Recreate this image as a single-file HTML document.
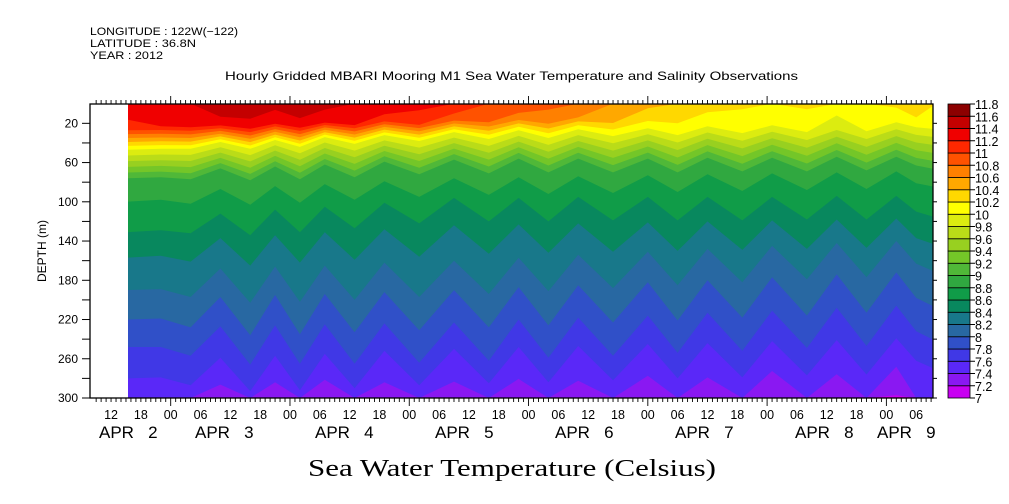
<!DOCTYPE html>
<html><head><meta charset="utf-8"><style>
body{margin:0;background:#fff;}
svg{display:block;font-family:"Liberation Sans",sans-serif;}
</style></head><body>
<svg id="chart" width="1009" height="504" viewBox="0 0 1009 504">
<rect width="1009" height="504" fill="#fff"/>
<g font-size="11" fill="#000">
<text x="90" y="35" textLength="148" lengthAdjust="spacingAndGlyphs">LONGITUDE : 122W(−122)</text>
<text x="90" y="47" textLength="106" lengthAdjust="spacingAndGlyphs">LATITUDE : 36.8N</text>
<text x="90" y="59" textLength="73" lengthAdjust="spacingAndGlyphs">YEAR : 2012</text>
</g>
<text x="225" y="80" textLength="573" lengthAdjust="spacingAndGlyphs" font-size="12">Hourly Gridded MBARI Mooring M1 Sea Water Temperature and Salinity Observations</text>
<defs><clipPath id="dclip"><rect x="128" y="104" width="805" height="294"/></clipPath></defs>
<g id="field" clip-path="url(#dclip)"></g>
<g id="axes"></g>
<g id="cbar"></g>
<text transform="translate(46,251) rotate(-90)" text-anchor="middle" font-size="12">DEPTH (m)</text>
<text x="308" y="476" textLength="408" lengthAdjust="spacingAndGlyphs" font-size="24" font-family="Liberation Serif, serif">Sea Water Temperature (Celsius)</text>
</svg>
<script>
// sample times (hours since 2012-04-02 00:00)
const times=[15,22,28,34,40,45,50,55,61,67,74,81,88,94,100,106,113,120,126,132,139,145,152,158,164,170,174,178];
const surfT=[11.3,11.35,11.4,11.5,11.5,11.45,11.5,11.45,11.4,11.3,11.25,11.1,10.95,10.9,10.85,10.75,10.6,10.45,10.4,10.3,10.25,10.2,10.25,10.15,10.2,10.25,10.35,10.2];
const dMix=[24,23,23,20,23,19,22,18,21,16,20,15,19,14,18,14,18,14,17,13,17,13,17,12,16,12,14,16];
const d10=[47,46,46,39,46,37,44,34,41,32,38,29,36,27,35,26,33,25,32,23,30,22,29,20,28,19,24,26];
const d90=[76,75,77,66,78,64,77,62,75,59,72,57,71,56,70,56,70,56,70,55,69,55,69,54,68,54,63,67];
const d88=[100,98,102,87,103,84,101,82,98,79,95,76,93,75,92,74,91,73,90,72,89,71,88,70,87,69,81,85];
const d86=[131,129,132,112,134,108,131,105,127,101,122,96,120,96,120,95,119,95,119,95,119,95,118,94,118,94,110,116];
const d84=[157,155,161,137,165,134,162,131,159,128,156,124,153,123,152,122,151,121,150,120,149,119,148,118,147,117,137,144];
const d82=[190,189,197,168,203,166,202,165,200,162,197,160,194,157,191,154,188,151,185,148,182,145,179,142,177,140,163,172];
const d80=[220,219,228,197,236,195,235,194,233,192,231,190,228,187,226,185,223,182,221,180,218,177,216,174,213,172,198,208];
const d78=[248,248,257,227,266,226,265,225,265,224,264,223,262,220,259,218,257,216,254,213,252,211,249,208,247,206,232,242];
const d76=[280,279,287,259,293,257,292,255,290,252,287,250,285,248,284,247,282,245,280,244,279,242,277,241,276,239,262,271];
const bottomT=[7.42,7.42,7.44,7.3,7.46,7.28,7.46,7.26,7.46,7.3,7.46,7.3,7.46,7.28,7.46,7.3,7.46,7.26,7.46,7.28,7.46,7.22,7.46,7.26,7.46,7.18,7.4,7.44];
const levels=[7,7.2,7.4,7.6,7.8,8,8.2,8.4,8.6,8.8,9,9.2,9.4,9.6,9.8,10,10.2,10.4,10.6,10.8,11,11.2,11.4,11.6,11.8];
const levelColors=['#c800f2','#8a18f2','#5a28f8','#4038e6','#3050c8','#2868a2','#18788a','#08885e','#109c48','#30a840','#50b838','#74c628','#98d020','#badc18','#dcec10','#ffff00','#ffd800','#ffa800','#ff8000','#ff5200','#ff2800','#f00000','#c40000','#8c0000'];
const depthTicks=[20,40,60,80,100,120,140,160,180,200,220,240,260,280,300];
const depthLabels=['20','60','100','140','180','220','260','300'];
const hourLabels=['00','06','12','18'];
const dayNames=['APR   2','APR   3','APR   4','APR   5','APR   6','APR   7','APR   8','APR   9'];

const NS='http://www.w3.org/2000/svg';
const X0=170.7, PXH=4.97, Y0=103.7, PXM=0.981;
function xOf(h){return X0+(h-24)*PXH;}
function yOf(d){return Y0+d*PXM;}
function mk(tag,attrs,parent){const e=document.createElementNS(NS,tag);for(const k in attrs)e.setAttribute(k,attrs[k]);parent.appendChild(e);return e;}

function knots(i){
  return [[0,surfT[i]],[dMix[i],surfT[i]-0.15],[d10[i],10],[d90[i],9],[d88[i],8.8],[d86[i],8.6],[d84[i],8.4],[d82[i],8.2],[d80[i],8.0],[d78[i],7.8],[d76[i],7.6],[300,bottomT[i]]];
}
function depthOf(i,L){
  const k=knots(i);
  if(L>k[0][1])return 0;
  for(let j=0;j<k.length-1;j++){
    const [da,ta]=k[j],[db,tb]=k[j+1];
    if(L<=ta&&L>=tb){ if(ta===tb)return da; return da+(ta-L)/(ta-tb)*(db-da);}
  }
  return 300;
}
const field=document.getElementById('field');
const base=mk('rect',{x:128,y:104,width:805,height:294,fill:levelColors[0]},field);


for(let b=1;b<levelColors.length;b++){
  const L=levels[b];
  let pts=[];
  for(let i=0;i<times.length;i++)pts.push(xOf(times[i]).toFixed(1)+','+yOf(depthOf(i,L)).toFixed(1));
  pts.push(xOf(times[times.length-1]).toFixed(1)+',100');
  pts.push(xOf(times[0]).toFixed(1)+',100');
  const p=mk('polygon',{points:pts.join(' '),fill:levelColors[b]},field);
  
  
}

const ax=document.getElementById('axes');
const frame=mk('rect',{x:90,y:104,width:843,height:294,fill:'none',stroke:'#000','stroke-width':1.3},ax);


depthTicks.forEach(d=>{
  const y=yOf(d);
  const t=mk('line',{x1:82,x2:90,y1:y,y2:y,stroke:'#000'},ax);
  
  
  const t2=mk('line',{x1:933,x2:937,y1:y,y2:y,stroke:'#000'},ax);
  
  
});
depthLabels.forEach(s=>{
  const tx=mk('text',{x:78,y:yOf(+s)+4,'text-anchor':'end','font-size':12},ax);
  tx.textContent=s;
  
  
});
for(let h=9;h<=177;h++){
  const x=xOf(h); if(x<90||x>933)continue;
  const day=(h%24===0);
  const len=day?8:4;
  const a=mk('line',{x1:x,x2:x,y1:104,y2:104-len,stroke:'#000','stroke-width':0.9},ax);
  
  
  const b=mk('line',{x1:x,x2:x,y1:398,y2:398+len,stroke:'#000','stroke-width':0.9},ax);
  
  
  if(h%6===0){
    const tx=mk('text',{x:x,y:419,'text-anchor':'middle','font-size':12.5},ax);
    tx.textContent=hourLabels[(h%24)/6];
    
    
  }
}
const dayX=[99,195,315,435,555,675,795,877];
dayNames.forEach((s,i)=>{
  const tx=mk('text',{x:dayX[i],y:438,'font-size':17},ax);
  tx.setAttribute('style','white-space:pre');
  tx.textContent=s;
  
  
});
const cb=document.getElementById('cbar');


const cTop=104,cBot=398,n=levelColors.length,hh=(cBot-cTop)/n;
for(let b=0;b<n;b++){
  const y=cBot-(b+1)*hh;
  const r=mk('rect',{x:948,y:y,width:22,height:hh,fill:levelColors[b],stroke:'#000','stroke-width':0.8},cb);
  
  
}
levels.forEach((L,b)=>{
  const y=cBot-b*hh;
  const l=mk('line',{x1:970,x2:975,y1:y,y2:y,stroke:'#000'},cb);
  
  
  const tx=mk('text',{x:975,y:y+5,'font-size':12.5},cb);
  tx.textContent=String(L);
  
  
});
</script>
</body></html>
